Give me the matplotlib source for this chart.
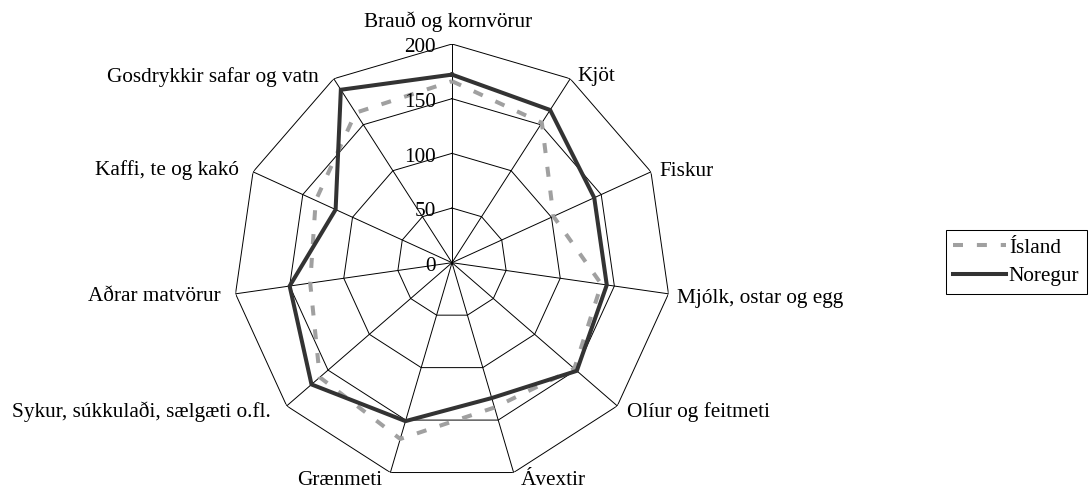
import numpy as np
import matplotlib
matplotlib.use("Agg")
import matplotlib.pyplot as plt

# ---------------- data ----------------
categories = [
    "Brauð og kornvörur",
    "Kjöt",
    "Fiskur",
    "Mjólk, ostar og egg",
    "Olíur og feitmeti",
    "Ávextir",
    "Grænmeti",
    "Sykur, súkkulaði, sælgæti o.fl.",
    "Aðrar matvörur",
    "Kaffi, te og kakó",
    "Gosdrykkir safar og vatn",
]
island = [166, 152, 102, 138, 148, 138, 168, 160, 131, 137, 163]
noregur = [172, 166, 143, 143, 151, 129, 151, 170, 150, 117, 188]
series_names = ["Ísland", "Noregur"]
ticks = [0, 50, 100, 150, 200]
tick_labels = ["0", "50", "100", "150", "200"]

# ---------------- layout (pixel offsets from the 200-ring vertex) ----------------
label_layout = [
    (-4, -17, "center"),
    (7, 2.3, "left"),
    (8.6, 4.3, "left"),
    (9, 9, "left"),
    (9.3, 11, "left"),
    (7, 12.3, "left"),
    (-8.4, 12.3, "right"),
    (-16, 11, "right"),
    (-15, 7, "right"),
    (-14, 3, "right"),
    (-15.5, 3, "right"),
]

plt.rcParams["font.family"] = ["Liberation Serif", "DejaVu Serif"]
plt.rcParams["lines.scale_dashes"] = False

W, H = 1091, 493
fig = plt.figure(figsize=(W / 100, H / 100), dpi=100)
cx, cy, R = 452, 262.7, 218.7
ax = fig.add_axes([(cx - R) / W, (H - cy - R) / H, 2 * R / W, 2 * R / H],
                  projection="polar")
ax.set_theta_zero_location("N")
ax.set_theta_direction(-1)
ax.set_ylim(0, 200)
ax.set_axis_off()

n = len(categories)
angles = np.arange(n) * 2 * np.pi / n
closed = np.append(angles, angles[0])

FS = 15.3
PX = 0.72

# polygon grid
for t in ticks[1:]:
    ax.plot(closed, [t] * (n + 1), color="black", lw=0.7, zorder=1)
# spokes
for a in angles:
    ax.plot([a, a], [0, ticks[-1]], color="black", lw=0.7, zorder=1)

# series
l1, = ax.plot(closed, island + island[:1], color="#A0A0A0", lw=2.9,
              dashes=(7.2, 10), dash_capstyle="butt", zorder=3)
l2, = ax.plot(closed, noregur + noregur[:1], color="#333333", lw=2.9,
              solid_joinstyle="miter", zorder=4)

# tick labels
for t, lab in zip(ticks, tick_labels):
    ax.annotate(lab, xy=(0, t), xytext=(-16 * PX, -8.4 * PX),
                textcoords="offset points", ha="right", va="baseline",
                fontsize=FS, annotation_clip=False, zorder=5)

# category labels
for a, lab, (dx, dy, ha) in zip(angles, categories, label_layout):
    ax.annotate(lab, xy=(a, ticks[-1]), xytext=(dx * PX, -dy * PX),
                textcoords="offset points", ha=ha, va="baseline",
                fontsize=FS, annotation_clip=False)

leg = fig.legend([l1, l2], series_names, loc="center left",
                 bbox_to_anchor=(945.7 / W, (H - 262) / H),
                 frameon=True, fancybox=False, edgecolor="black", framealpha=1,
                 fontsize=FS, handlelength=2.5, handletextpad=0.12,
                 borderpad=0.35, labelspacing=0.4, borderaxespad=0)
leg.get_frame().set_linewidth(0.75)

fig.savefig("out.png", dpi=100)
